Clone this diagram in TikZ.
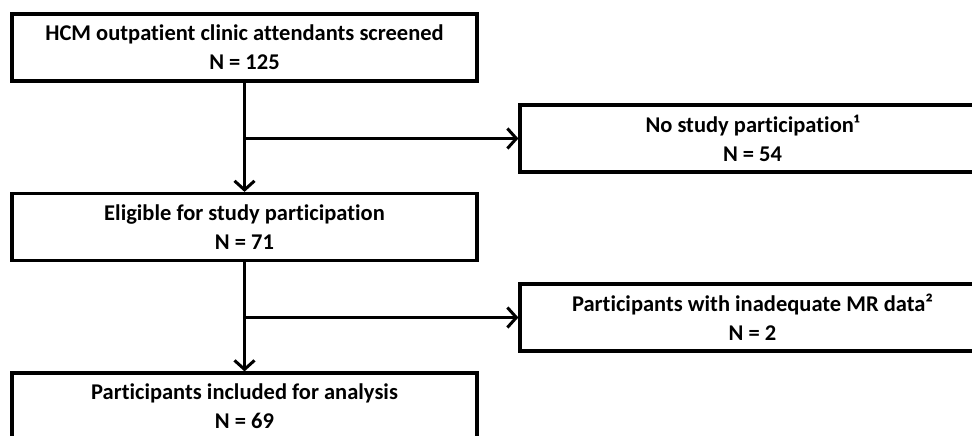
\documentclass[tikz,border=0pt]{standalone}
\usepackage{fontspec}
\setmainfont{Carlito}[Ligatures=CommonOff]
\usetikzlibrary{arrows.meta}
\begin{document}
\begin{tikzpicture}[x=1pt,y=-1pt,
  box/.style={draw, line width=3.2pt, minimum width=465pt, minimum height=67pt,
    inner sep=0pt, align=center, font=\fontsize{22.5}{29}\selectfont\bfseries},
  conn/.style={line width=3pt, -{Straight Barb[length=9pt,width=20pt,line width=3pt]}}]
\useasboundingbox (0,0) rectangle (972,436);
\clip (0,0) rectangle (972,436);
\node[box] (b1) at (244.5,47.5) {HCM outpatient clinic attendants screened\\N = 125};
\node[box] (b2) at (244.5,227) {Eligible for study participation\\N = 71};
\node[box] (b3) at (244.5,406.5) {Participants included for analysis\\N = 69};
\node[box] (ns) at (752.5,138.5) {No study participation¹\\N = 54};
\node[box] (mr) at (752.5,317.5) {Participants with inadequate MR data²\\N = 2};
\coordinate (j1) at (b1.south |- ns.west);
\coordinate (j2) at (b2.south |- mr.west);
\draw[conn] (b1.south) -- (b2.north);
\draw[conn] (b2.south) -- (b3.north);
\draw[conn] (j1) -- (ns.west);
\draw[conn] (j2) -- (mr.west);
\end{tikzpicture}
\end{document}
